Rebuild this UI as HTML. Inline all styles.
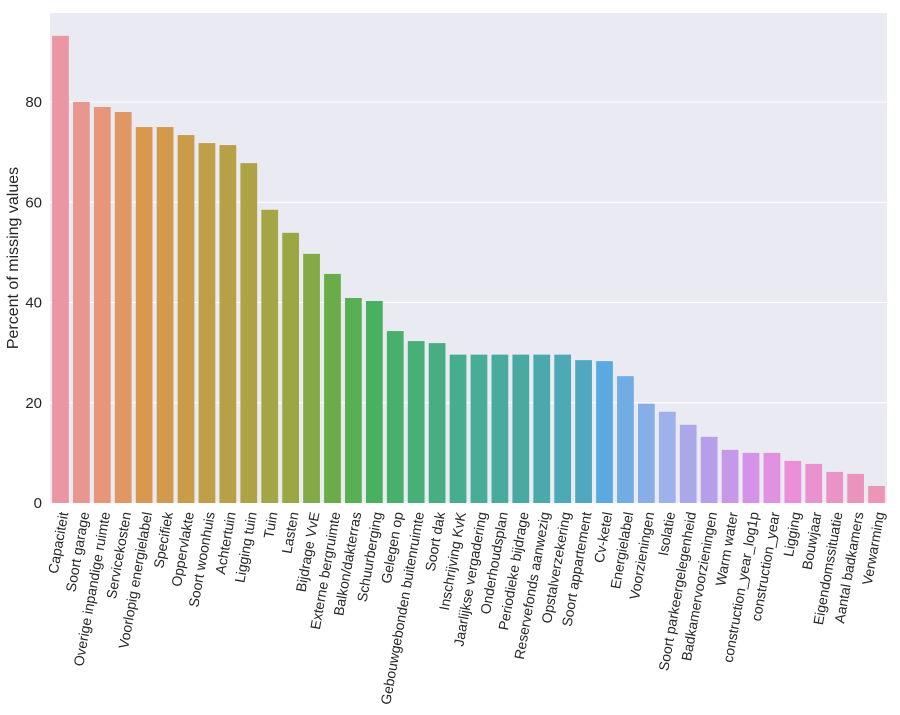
<!DOCTYPE html>
<html><head><meta charset="utf-8"><style>
body{margin:0;background:#fff}
svg text{font-family:"Liberation Sans",Arial,sans-serif;fill:#262626}
</style></head><body>
<svg id="chart" width="900" height="710" xmlns="http://www.w3.org/2000/svg">
<rect x="50" y="13" width="837" height="490" fill="#eaeaf2"/>
<g id="grid"></g><g id="bars"></g><g id="yticks"></g><g id="xticks"></g>
<text x="0" y="0" font-size="16" text-anchor="middle" transform="translate(18,258) rotate(-90)">Percent of missing values</text>
</svg>
<script>
const categories=["Capaciteit","Soort garage","Overige inpandige ruimte","Servicekosten","Voorlopig energielabel","Specifiek","Oppervlakte","Soort woonhuis","Achtertuin","Ligging tuin","Tuin","Lasten","Bijdrage VvE","Externe bergruimte","Balkon/dakterras","Schuurberging","Gelegen op","Gebouwgebonden buitenruimte","Soort dak","Inschrijving KvK","Jaarlijkse vergadering","Onderhoudsplan","Periodieke bijdrage","Reservefonds aanwezig","Opstalverzekering","Soort appartement","Cv-ketel","Energielabel","Voorzieningen","Isolatie","Soort parkeergelegenheid","Badkamervoorzieningen","Warm water","construction_year_log1p","construction_year","Ligging","Bouwjaar","Eigendomssituatie","Aantal badkamers","Verwarming"];
const values=[93.2,80,79,78,75,75,73.4,71.8,71.4,67.8,58.5,53.9,49.7,45.7,40.9,40.3,34.3,32.3,31.9,29.6,29.6,29.6,29.6,29.6,29.6,28.5,28.3,25.3,19.8,18.2,15.6,13.2,10.6,10,10,8.4,7.8,6.2,5.8,3.4];
const yTicks=[0,20,40,60,80];
const anchors=[[0,[234,150,163]],[2,[232,150,122]],[4,[218,152,78]],[8,[184,160,70]],[11,[154,167,67]],[13,[106,172,71]],[15,[72,177,95]],[19,[71,173,143]],[23,[74,169,170]],[25,[80,168,192]],[26,[90,169,224]],[29,[159,177,234]],[31,[183,158,232]],[33,[213,147,231]],[35,[234,143,216]],[39,[234,150,180]]];
const X0=50,X1=887,Y0=503,PX=5.0125;
const step=(X1-X0)/categories.length;
const xs=i=>X0+step*(i+0.5), ys=v=>Y0-v*PX;
function col(i){for(let k=0;k<anchors.length-1;k++){const[a,ca]=anchors[k],[b,cb]=anchors[k+1];if(i>=a&&i<=b){const t=(i-a)/(b-a);return`rgb(${ca.map((c,j)=>Math.round(c+(cb[j]-c)*t)).join(',')})`;}}return'rgb(234,150,180)';}
const NS="http://www.w3.org/2000/svg";
const g=document.getElementById('grid'),yt=document.getElementById('yticks'),bg=document.getElementById('bars'),xt=document.getElementById('xticks');
yTicks.forEach(t=>{
 const l=document.createElementNS(NS,'line');
 
 
 l.setAttribute('x1',X0);l.setAttribute('x2',X1);l.setAttribute('y1',ys(t));l.setAttribute('y2',ys(t));l.setAttribute('stroke','#fff');l.setAttribute('stroke-width','1');g.appendChild(l);
 const tx=document.createElementNS(NS,'text');
 
 
 tx.setAttribute('x',X0-8);tx.setAttribute('y',ys(t)+5);tx.setAttribute('text-anchor','end');tx.setAttribute('font-size','15');tx.textContent=t;yt.appendChild(tx);
});
categories.forEach((c,i)=>{
 const w=step*0.8,r=document.createElementNS(NS,'rect');
 
 
 r.setAttribute('x',xs(i)-w/2);r.setAttribute('width',w);r.setAttribute('y',ys(values[i]));r.setAttribute('height',Y0-ys(values[i]));r.setAttribute('fill',col(i));bg.appendChild(r);
 const t=document.createElementNS(NS,'text');
 
 
 t.setAttribute('text-anchor','end');t.setAttribute('font-size','14');t.setAttribute('dominant-baseline','central');
 t.setAttribute('transform',`translate(${xs(i)+3},512) rotate(-80)`);t.textContent=c;xt.appendChild(t);
});
</script>
</body></html>
